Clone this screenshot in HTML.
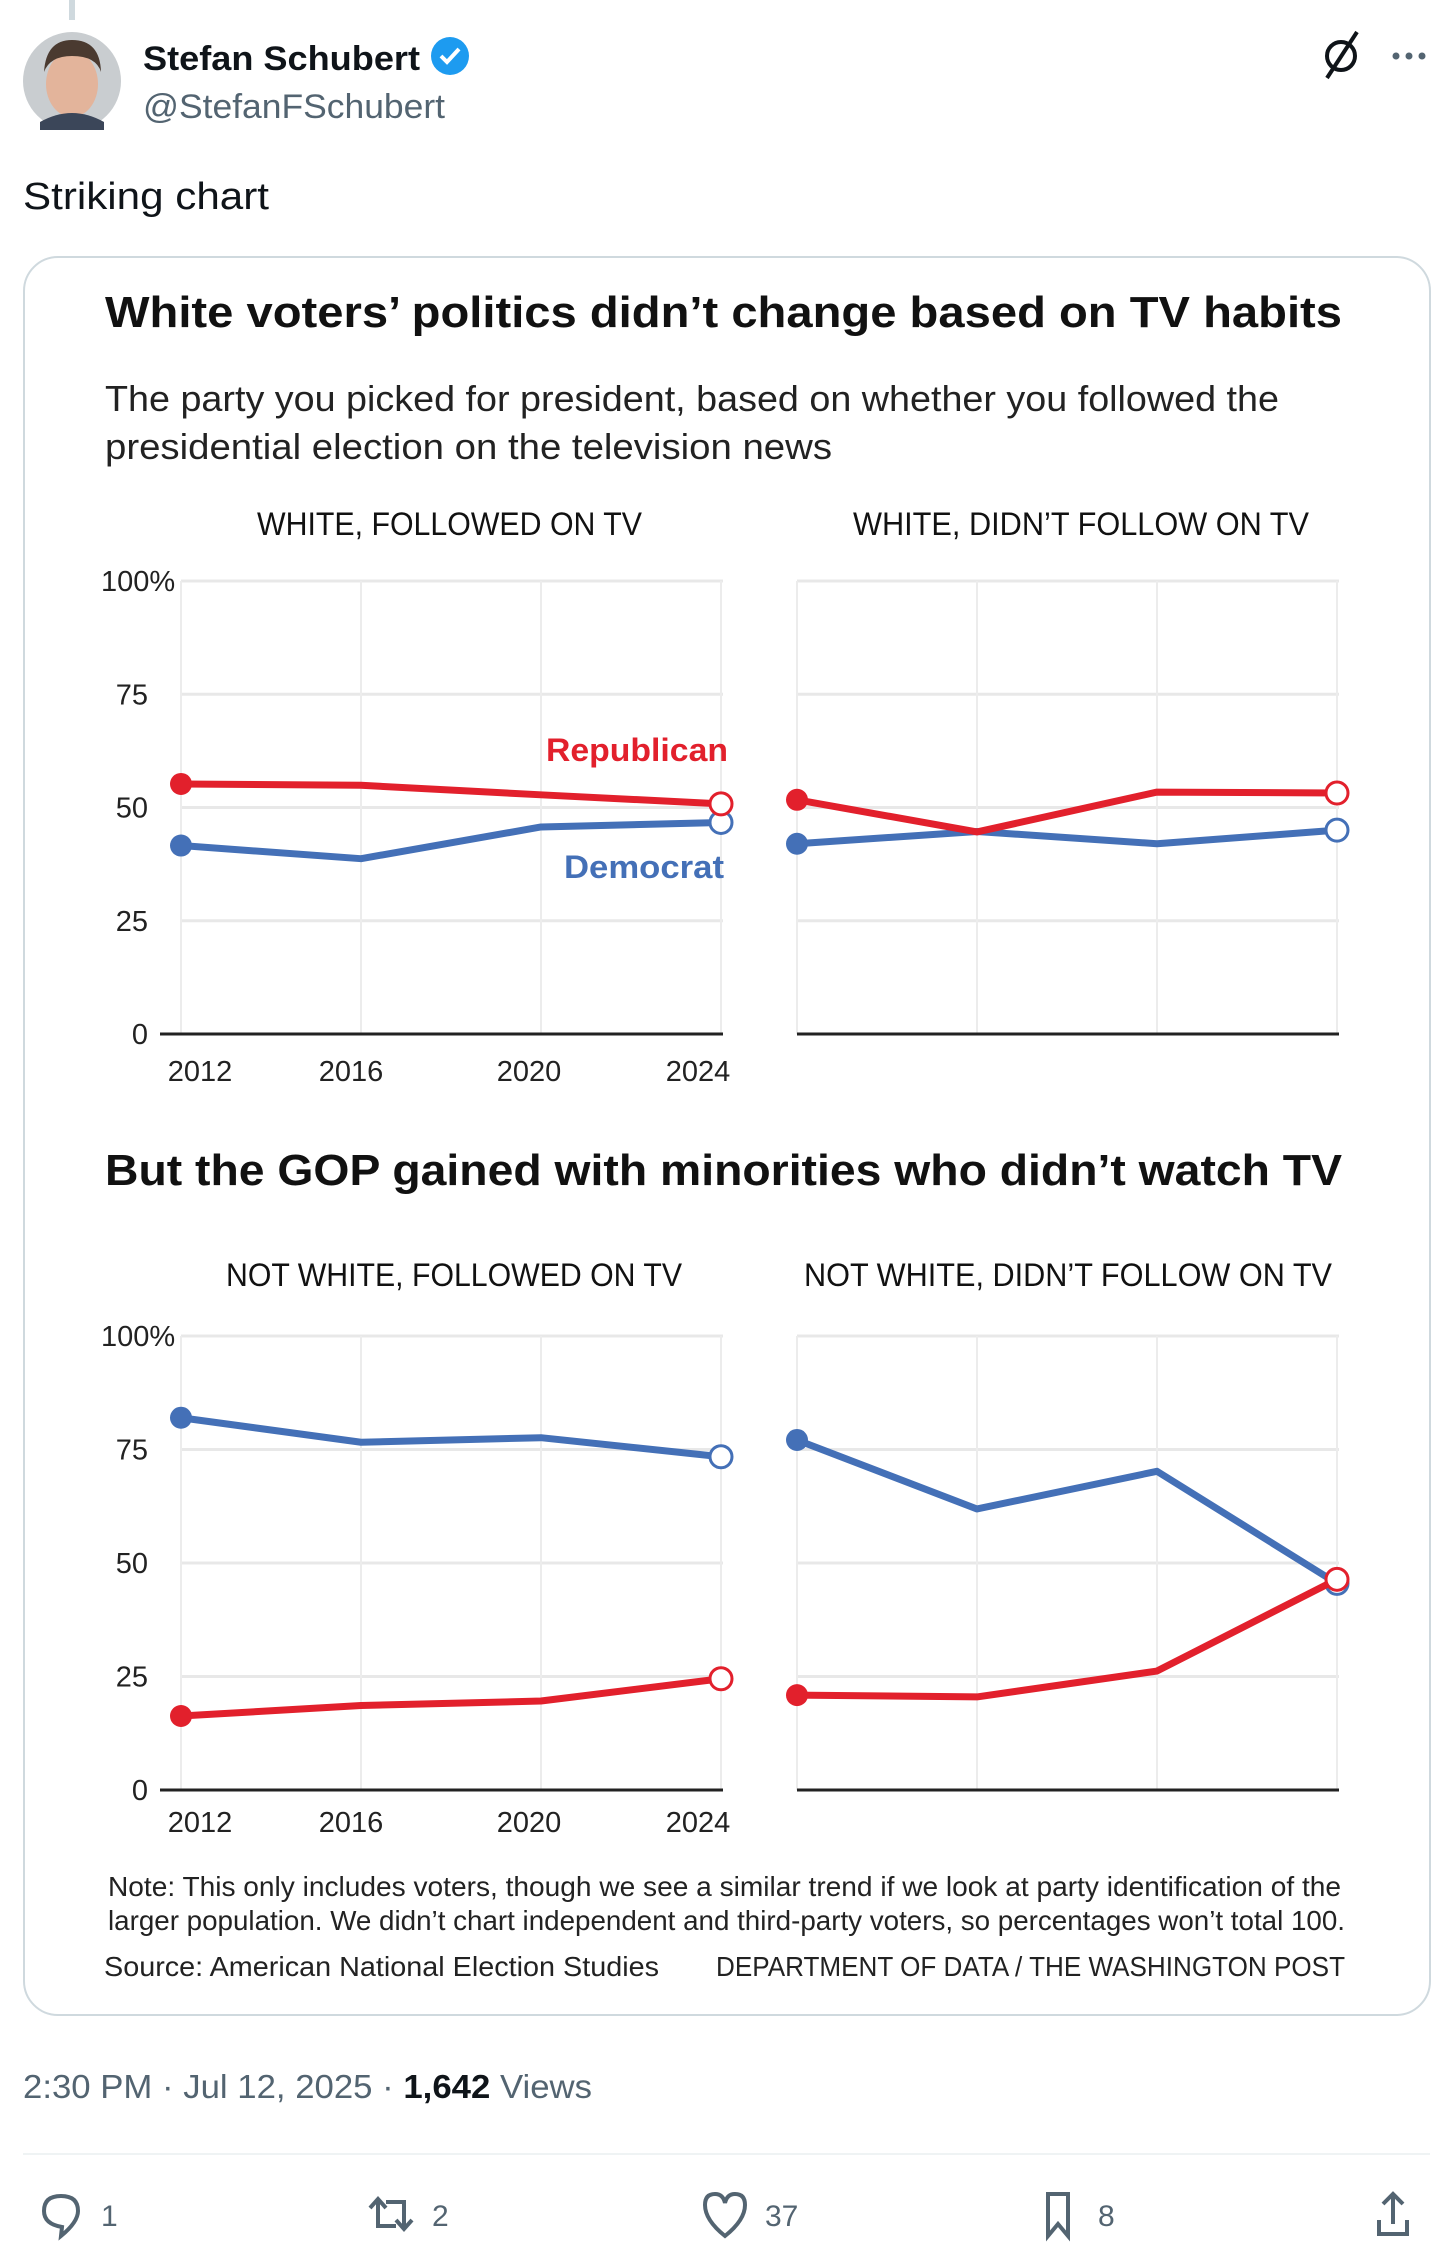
<!DOCTYPE html>
<html><head><meta charset="utf-8"><style>
html,body{margin:0;padding:0;background:#fff;width:1456px;height:2262px;overflow:hidden}
svg{display:block}
</style></head><body>
<svg id="page" width="1456" height="2262" viewBox="0 0 1456 2262" xmlns="http://www.w3.org/2000/svg" font-family="Liberation Sans, sans-serif">
  <rect x="69" y="0" width="6" height="20" fill="#cfd9de"/>
  <g>
    <circle cx="72" cy="81" r="49" fill="#c9cdd0"/>
    <ellipse cx="72" cy="84" rx="26" ry="33" fill="#e3b49b"/>
    <path d="M44 72 Q46 40 72 40 Q100 40 101 72 Q96 56 72 56 Q50 56 44 72Z" fill="#4a3a30"/>
    <path d="M40 122 Q72 104 104 122 L104 130 L40 130Z" fill="#3b4659"/>
  </g>
  <text x="143" y="70" font-size="34" font-weight="bold" fill="#0f1419" textLength="277" lengthAdjust="spacingAndGlyphs">Stefan Schubert</text>
  <g>
    <circle cx="450" cy="56" r="19" fill="#1d9bf0"/>
    <path d="M441 56 l6 6 l12 -13" stroke="#fff" stroke-width="4" fill="none"/>
  </g>
  <text x="143" y="118" font-size="34" fill="#536471" textLength="302" lengthAdjust="spacingAndGlyphs">@StefanFSchubert</text>
  <g>
    <circle cx="1341" cy="56" r="14" stroke="#0f1419" stroke-width="4" fill="none"/>
    <line x1="1327" y1="78" x2="1357" y2="32" stroke="#0f1419" stroke-width="4"/>
  </g>
  <g fill="#536471">
    <circle cx="1396" cy="56" r="3.5"/><circle cx="1409" cy="56" r="3.5"/><circle cx="1422" cy="56" r="3.5"/>
  </g>
  <text x="23" y="209" font-size="38" fill="#0f1419" textLength="246" lengthAdjust="spacingAndGlyphs">Striking chart</text>

  <rect x="24" y="257" width="1406" height="1758" rx="34" fill="#fff" stroke="#cfd9de" stroke-width="2"/>

  <text x="105" y="327" font-size="44" font-weight="bold" fill="#111" textLength="1237" lengthAdjust="spacingAndGlyphs">White voters’ politics didn’t change based on TV habits</text>
  <text x="105" y="411" font-size="36" fill="#222" textLength="1174" lengthAdjust="spacingAndGlyphs">The party you picked for president, based on whether you followed the</text>
  <text x="105" y="459" font-size="36" fill="#222" textLength="727" lengthAdjust="spacingAndGlyphs">presidential election on the television news</text>

  <text x="257" y="535" font-size="32" fill="#111" textLength="385" lengthAdjust="spacingAndGlyphs">WHITE, FOLLOWED ON TV</text>
  <text x="853" y="535" font-size="32" fill="#111" textLength="456" lengthAdjust="spacingAndGlyphs">WHITE, DIDN’T FOLLOW ON TV</text>

  <text x="105" y="1185" font-size="44" font-weight="bold" fill="#111" textLength="1237" lengthAdjust="spacingAndGlyphs">But the GOP gained with minorities who didn’t watch TV</text>
  <text x="226" y="1286" font-size="32" fill="#111" textLength="456" lengthAdjust="spacingAndGlyphs">NOT WHITE, FOLLOWED ON TV</text>
  <text x="804" y="1286" font-size="32" fill="#111" textLength="528" lengthAdjust="spacingAndGlyphs">NOT WHITE, DIDN’T FOLLOW ON TV</text>

  <g id="charts"></g>

  <text x="108" y="1896" font-size="28" fill="#222" textLength="1233" lengthAdjust="spacingAndGlyphs">Note: This only includes voters, though we see a similar trend if we look at party identification of the</text>
  <text x="108" y="1930" font-size="28" fill="#222" textLength="1237" lengthAdjust="spacingAndGlyphs">larger population. We didn’t chart independent and third-party voters, so percentages won’t total 100.</text>
  <text x="104" y="1976" font-size="28" fill="#222" textLength="555" lengthAdjust="spacingAndGlyphs">Source: American National Election Studies</text>
  <text x="716" y="1976" font-size="28" fill="#222" textLength="629" lengthAdjust="spacingAndGlyphs">DEPARTMENT OF DATA / THE WASHINGTON POST</text>

  <text x="23" y="2098" font-size="33" fill="#536471" textLength="569" lengthAdjust="spacingAndGlyphs">2:30 PM · Jul 12, 2025 · <tspan font-weight="bold" fill="#0f1419">1,642</tspan> Views</text>
  <rect x="23" y="2153" width="1407" height="2" fill="#eff3f4"/>

  <g stroke="#536471" stroke-width="4" fill="none">
    <g>
      <path d="M61 2236 L62 2227 Q44 2224 44 2211 Q44 2196 61 2196 Q78 2196 78 2211 Q78 2222 61 2236Z"/>
    </g>
    <g>
      <path d="M378 2200 v26 h18 M370 2208 l8 -9 l8 9 M404 2228 v-26 h-18 M396 2220 l8 9 l8 -9"/>
    </g>
    <g>
      <path d="M725 2236 Q705 2220 705 2205 Q705 2194 715 2194 Q723 2194 725 2203 Q727 2194 735 2194 Q745 2194 745 2205 Q745 2220 725 2236Z"/>
    </g>
    <g>
      <path d="M1048 2194 h20 v42 l-10 -12 l-10 12Z"/>
    </g>
    <g>
      <path d="M1393 2224 v-30 M1383 2204 l10 -10 l10 10 M1379 2220 v14 h28 v-14"/>
    </g>
  </g>
  <g font-size="30" fill="#536471">
    <text x="101" y="2226">1</text>
    <text x="432" y="2226">2</text>
    <text x="765" y="2226">37</text>
    <text x="1098" y="2226">8</text>
  </g>
</svg>
<script>
const years = [2012, 2016, 2020, 2024];
const yTicks = [0, 25, 50, 75, 100];
const yTickLabels = ["0", "25", "50", "75", "100%"];
const whiteTvRep = [55.2, 54.9, 52.8, 50.8];
const whiteTvDem = [41.6, 38.7, 45.7, 46.7];
const whiteNoTvRep = [51.7, 44.6, 53.4, 53.2];
const whiteNoTvDem = [42.0, 44.7, 42.0, 45.0];
const nonwhiteTvRep = [16.3, 18.6, 19.6, 24.5];
const nonwhiteTvDem = [82.0, 76.6, 77.6, 73.4];
const nonwhiteNoTvRep = [20.9, 20.5, 26.2, 46.4];
const nonwhiteNoTvDem = [77.1, 61.9, 70.2, 45.5];

const NS = "http://www.w3.org/2000/svg";
const RED = "#e2202c", BLUE = "#4470b7";
const root = document.getElementById("charts");
function mk(tag, attrs, parent) {
  const e = document.createElementNS(NS, tag);
  for (const k in attrs) e.setAttribute(k, attrs[k]);
  parent.appendChild(e);
  return e;
}
function panel(name, x0, x1, yTop, yBot, rep, dem, showY, showX) {
  const g = mk("g", {}, root);
  
  
  const xs = v => x0 + (v - years[0]) / (years[years.length - 1] - years[0]) * (x1 - x0);
  const ys = v => yBot - v / 100 * (yBot - yTop);
  yTicks.forEach((t, i) => {
    if (t === 0) return;
    const l = mk("line", {x1: x0, x2: x1 + 2, y1: ys(t), y2: ys(t), stroke: "#e8e8e8", "stroke-width": 3}, g);
    
    
  });
  years.forEach(yr => {
    const l = mk("line", {x1: xs(yr), x2: xs(yr), y1: ys(100), y2: ys(0), stroke: "#ececec", "stroke-width": 2}, g);
    
    
  });
  const base = mk("line", {x1: showY ? x0 - 21 : x0, x2: x1 + 2, y1: ys(0), y2: ys(0), stroke: "#222", "stroke-width": 3}, g);
  
  
  if (showY) {
    yTicks.forEach((t, i) => {
      const lab = yTickLabels[i];
      const tx = mk("text", {x: lab.indexOf("%") >= 0 ? 101 : 148, y: ys(t) + 10, "font-size": 29, fill: "#222", "text-anchor": lab.indexOf("%") >= 0 ? "start" : "end"}, g);
      tx.textContent = lab;
      
      
    });
  }
  if (showX) {
    const offs = [19, -10, -12, -23];
    years.forEach((yr, i) => {
      const tx = mk("text", {x: xs(yr) + offs[i], y: showX + 11, "font-size": 29, fill: "#222", "text-anchor": "middle"}, g);
      tx.textContent = String(yr);
      
      
    });
  }
  [[dem, BLUE, "democrat"], [rep, RED, "republican"]].forEach(([vals, col, nm]) => {
    const pts = vals.map((v, i) => xs(years[i]) + "," + ys(v)).join(" ");
    const pl = mk("polyline", {points: pts, fill: "none", stroke: col, "stroke-width": 7, "stroke-linejoin": "round"}, g);
    
    
    const c0 = mk("circle", {cx: xs(years[0]), cy: ys(vals[0]), r: 11, fill: col}, g);
    
    
    const n = vals.length - 1;
    const c1 = mk("circle", {cx: xs(years[n]), cy: ys(vals[n]), r: 11, fill: "#fff", stroke: col, "stroke-width": 3}, g);
    
    
  });
  return {xs, ys, g};
}
panel("panel-white-followed-tv", 181, 721, 581, 1034, whiteTvRep, whiteTvDem, true, 1070);
panel("panel-white-no-tv", 797, 1337, 581, 1034, whiteNoTvRep, whiteNoTvDem, false, 0);
panel("panel-nonwhite-followed-tv", 181, 721, 1336, 1790, nonwhiteTvRep, nonwhiteTvDem, true, 1821);
panel("panel-nonwhite-no-tv", 797, 1337, 1336, 1790, nonwhiteNoTvRep, nonwhiteNoTvDem, false, 0);

const rl = mk("text", {x: 728, y: 761, "font-size": 32, "font-weight": "bold", fill: RED, "text-anchor": "end", textLength: 182, lengthAdjust: "spacingAndGlyphs"}, root);
rl.textContent = "Republican";


const dl = mk("text", {x: 724, y: 878, "font-size": 32, "font-weight": "bold", fill: BLUE, "text-anchor": "end", textLength: 160, lengthAdjust: "spacingAndGlyphs"}, root);
dl.textContent = "Democrat";


</script>
</body></html>
